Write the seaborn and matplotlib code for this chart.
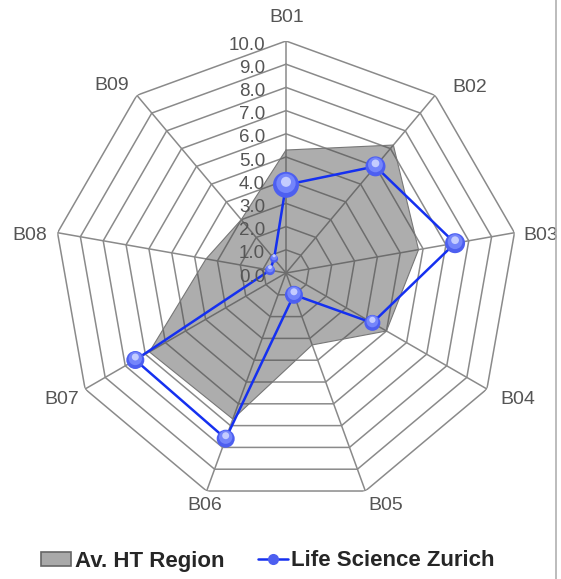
import numpy as np
import matplotlib
matplotlib.use('Agg')
import matplotlib.pyplot as plt
import matplotlib.transforms as mtransforms
from matplotlib.patches import Patch
from matplotlib.lines import Line2D
import seaborn as sns

# Data
categories = ['B01', 'B02', 'B03', 'B04', 'B05', 'B06', 'B07', 'B08', 'B09']
av_ht_region = [5.3, 7.2, 5.8, 5.0, 3.3, 6.7, 6.8, 3.5, 3.0]
life_science_zurich = [3.8, 6.0, 7.4, 4.3, 1.0, 7.6, 7.5, 0.7, 0.8]
bubble_radius = [13, 10, 10, 8, 9, 9, 9, 5, 4]  # marker radius in px
ring_levels = [1, 2, 3, 4, 5, 6, 7, 8, 9, 10]
ring_labels = ['%.1f' % v for v in [0] + ring_levels]

sns.set_style('white')
plt.rcParams['font.family'] = ['Liberation Sans', 'DejaVu Sans']

fig = plt.figure(figsize=(5.61, 5.79), dpi=100)
# center at (286, 273) px, radius ~232 px
ax = fig.add_axes([54 / 561, 74 / 579, 464 / 561, 464 / 579], projection='polar')
ax.set_theta_zero_location('N')
ax.set_theta_direction(-1)
ax.set_ylim(0, 10)
ax.grid(False)
ax.set_xticks([])
ax.set_yticks([])
ax.spines['polar'].set_visible(False)
ax.set_facecolor('none')

n = len(categories)
theta = np.deg2rad(np.arange(n) * 360 / n)
theta_c = np.append(theta, theta[0])

# nonagon grid
for lvl in ring_levels:
    ax.plot(theta_c, [lvl] * (n + 1), color='#8a8a8a', lw=1.1, zorder=1)
for t in theta:
    ax.plot([t, t], [0, 10], color='#8a8a8a', lw=1.1, zorder=1)

# average region (grey area)
avg_c = av_ht_region + av_ht_region[:1]
ax.fill(theta_c, avg_c, facecolor='#4a4a4a', alpha=0.45, edgecolor='none', zorder=2)
ax.plot(theta_c, avg_c, color='#777777', lw=0.8, zorder=2)

# Life Science Zurich line
lsz_c = life_science_zurich + life_science_zurich[:1]
sns.lineplot(x=theta_c, y=lsz_c, sort=False, estimator=None, ax=ax,
             color='#1530f0', lw=1.8, zorder=3)
sizes = [(2 * r * 0.72) ** 2 for r in bubble_radius]
ax.scatter(theta, life_science_zurich, s=sizes, color='#4d5ff0', edgecolors='none', zorder=4)
ax.scatter(theta, life_science_zurich, s=[s * 0.55 for s in sizes], color='#7485fb',
           edgecolors='none', zorder=5,
           transform=mtransforms.offset_copy(ax.transData, fig=fig, x=0, y=1.5, units='dots'))
ax.scatter(theta, life_science_zurich, s=[s * 0.15 for s in sizes], color='#c4ccff',
           edgecolors='none', zorder=6,
           transform=mtransforms.offset_copy(ax.transData, fig=fig, x=0, y=3, units='dots'))

# radial tick labels left of the B01 spoke
for i, lab in enumerate(ring_labels):
    ax.annotate(lab, xy=(0, i), xytext=(-21, -4), textcoords='offset pixels',
                ha='right', va='center', fontsize=13.5, color='#555555', zorder=7)

# category labels
label_offsets = [(1, 23), (35, 8), (26, -3), (31, -10), (20, -14),
                 (-2, -14), (-23, -10), (-28, -3), (-25, 10)]
for t, lab, off in zip(theta, categories, label_offsets):
    ax.annotate(lab, xy=(t, 10), xytext=off, textcoords='offset pixels',
                ha='center', va='center', fontsize=14, color='#555555')

handles = [
    Patch(facecolor='#a9a9a9', edgecolor='#666666', lw=1.2, label='Av. HT Region'),
    Line2D([0], [0], color='#1530f0', lw=1.8, marker='o', markersize=8,
           markerfacecolor='#4d5ff0', markeredgecolor='none', label='Life Science Zurich'),
]
fig.legend(handles=handles, loc='center', bbox_to_anchor=(268 / 561, 1 - 561 / 579),
           ncol=2, frameon=False, prop={'weight': 'bold', 'size': 16},
           handlelength=1.35, handleheight=0.6, handletextpad=0.15, columnspacing=1.5)

fig.add_artist(Line2D([556 / 561, 556 / 561], [0, 1], color='#b0b0b0', lw=1.2))

fig.savefig('out.png', dpi=100)
